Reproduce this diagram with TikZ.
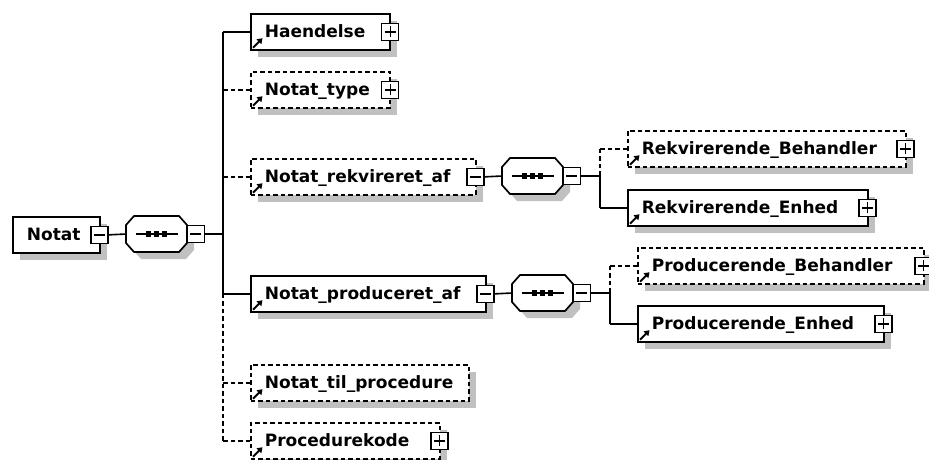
\documentclass[tikz,border=0pt]{standalone}
\usepackage{fontspec}
\setmainfont{DejaVu Sans}
\usetikzlibrary{shadows,arrows.meta,calc}
\definecolor{shadowgray}{RGB}{192,192,192}
\tikzset{
  elembox/.style={draw, line width=1.7pt, fill=white, anchor=north west,
    minimum height=36pt, inner xsep=14pt, inner ysep=0pt, text width=#1,
    align=left, text height=14pt, text depth=2pt,
    font=\bfseries\fontsize{17}{20}\selectfont,
    general shadow={fill=shadowgray, shadow xshift=7pt, shadow yshift=-7pt}},
  optbox/.style={elembox=#1, dash pattern=on 4.5pt off 3pt},
  pmbox/.style={draw=black, fill=white, line width=1.5pt, minimum size=17pt, inner sep=0pt},
  minusbox/.style={pmbox, path picture={
      \draw[line width=1.4pt] ([xshift=-5.5pt]path picture bounding box.center) -- ([xshift=5.5pt]path picture bounding box.center);}},
  plusbox/.style={pmbox, path picture={
      \draw[line width=1.4pt] ([xshift=-5.5pt]path picture bounding box.center) -- ([xshift=5.5pt]path picture bounding box.center);
      \draw[line width=1.4pt] ([yshift=-5.5pt]path picture bounding box.center) -- ([yshift=5.5pt]path picture bounding box.center);}},
  seqbox/.style={minimum width=61pt, minimum height=36pt, inner sep=0pt, outer sep=0pt, anchor=north west},
  conn/.style={line width=1.6pt},
  optconn/.style={conn, dash pattern=on 4.5pt off 3pt},
}
\newcommand\seqshape[1]{%
  \fill[shadowgray]
    ([shift={(15pt,-7pt)}]#1.north west) -- ([shift={(-1pt,-7pt)}]#1.north east) -- ([shift={(7pt,-16pt)}]#1.north east)
    -- ([shift={(7pt,2pt)}]#1.south east) -- ([shift={(-1pt,-7pt)}]#1.south east) -- ([shift={(15pt,-7pt)}]#1.south west)
    -- ([shift={(7pt,2pt)}]#1.south west) -- ([shift={(7pt,-16pt)}]#1.north west) -- cycle;
  \draw[line width=1.7pt, fill=white]
    ([xshift=8pt]#1.north west) -- ([xshift=-8pt]#1.north east) -- ([yshift=-9pt]#1.north east)
    -- ([yshift=9pt]#1.south east) -- ([xshift=-8pt]#1.south east) -- ([xshift=8pt]#1.south west)
    -- ([yshift=9pt]#1.south west) -- ([yshift=-9pt]#1.north west) -- cycle;
  \draw[line width=1.6pt] ([xshift=-21pt]#1.center) -- ([xshift=21pt]#1.center);
  \fill ([xshift=-8pt]#1.center) +(-2.8pt,-2.8pt) rectangle +(2.8pt,2.8pt);
  \fill (#1.center) +(-2.8pt,-2.8pt) rectangle +(2.8pt,2.8pt);
  \fill ([xshift=8pt]#1.center) +(-2.8pt,-2.8pt) rectangle +(2.8pt,2.8pt);
}
\newcommand\refarrow[1]{%
  \draw[line width=2pt, -{Triangle[length=5pt,width=6.5pt]}]
    ([shift={(3pt,3pt)}]#1.south west) -- ([shift={(12.5pt,12.5pt)}]#1.south west);
}
\begin{document}
\begin{tikzpicture}[x=1pt,y=-1pt]
\useasboundingbox (0,0) rectangle (929,460);

% root
\node[elembox=59pt] (notat) at (12,216) {Notat};
\node[minusbox] (notat-pm) at ([xshift=-1pt]notat.east) {};

% sequence 1
\node[seqbox] (s1) at (126,216) {};
\seqshape{s1}
\node[minusbox] (s1-pm) at ([xshift=8.8pt]s1.east) {};
\coordinate (t1) at (223,234);

% children of Notat
\node[elembox=111pt] (hae) at (250,13) {Haendelse};
\node[plusbox] (hae-pm) at ([xshift=-0.5pt]hae.east) {};
\refarrow{hae}

\node[optbox=111pt] (typ) at (250,71) {Notat\_type};
\node[plusbox] (typ-pm) at ([xshift=-0.5pt]typ.east) {};
\refarrow{typ}

\node[optbox=197pt] (rek) at (250,158) {Notat\_rekvireret\_af};
\node[minusbox] (rek-pm) at ([xshift=-1pt]rek.east) {};
\refarrow{rek}

\node[elembox=207pt] (pro) at (250,275) {Notat\_produceret\_af};
\node[minusbox] (pro-pm) at ([xshift=-1pt]pro.east) {};
\refarrow{pro}

\node[optbox=190pt] (til) at (250,364) {Notat\_til\_procedure};
\refarrow{til}

\node[optbox=161pt] (kod) at (250,422) {Procedurekode};
\node[plusbox] (kod-pm) at ([xshift=-1pt]kod.east) {};
\refarrow{kod}

% sequence 2
\node[seqbox] (s2) at (502,158) {};
\seqshape{s2}
\node[minusbox] (s2-pm) at ([xshift=8.8pt]s2.east) {};
\coordinate (t2) at (600,176);

\node[optbox=250pt] (rb) at (627,130) {Rekvirerende\_Behandler};
\node[plusbox] (rb-pm) at ([xshift=-1pt]rb.east) {};
\refarrow{rb}

\node[elembox=212pt] (re) at (627,189) {Rekvirerende\_Enhed};
\node[plusbox] (re-pm) at ([xshift=-1pt]re.east) {};
\refarrow{re}

% sequence 3
\node[seqbox] (s3) at (512,275) {};
\seqshape{s3}
\node[minusbox] (s3-pm) at ([xshift=8.8pt]s3.east) {};
\coordinate (t3) at (610,293);

\node[optbox=258pt] (pb) at (637,247) {Producerende\_Behandler};
\node[plusbox] (pb-pm) at ([xshift=-1pt]pb.east) {};
\refarrow{pb}

\node[elembox=218pt] (pe) at (637,305) {Producerende\_Enhed};
\node[plusbox] (pe-pm) at ([xshift=-1pt]pe.east) {};
\refarrow{pe}

% connectors
\draw[conn] (notat-pm.east) -- (s1.west);
\draw[conn] (s1-pm.east) -- (t1);
\draw[conn] (t1 |- hae.west) -- (t1 |- pro.west);
\draw[optconn] (t1 |- pro.west) -- (t1 |- kod.west);
\draw[conn] (t1 |- hae.west) -- (hae.west);
\draw[optconn] (t1 |- typ.west) -- (typ.west);
\draw[optconn] (t1 |- rek.west) -- (rek.west);
\draw[conn] (t1 |- pro.west) -- (pro.west);
\draw[optconn] (t1 |- til.west) -- (til.west);
\draw[optconn] (t1 |- kod.west) -- (kod.west);

\draw[conn] (rek-pm.east) -- (s2.west);
\draw[conn] (s2-pm.east) -- (t2);
\draw[optconn] (t2 |- rb.west) -- (t2);
\draw[conn] (t2) -- (t2 |- re.west);
\draw[optconn] (t2 |- rb.west) -- (rb.west);
\draw[conn] (t2 |- re.west) -- (re.west);

\draw[conn] (pro-pm.east) -- (s3.west);
\draw[conn] (s3-pm.east) -- (t3);
\draw[optconn] (t3 |- pb.west) -- (t3);
\draw[conn] (t3) -- (t3 |- pe.west);
\draw[optconn] (t3 |- pb.west) -- (pb.west);
\draw[conn] (t3 |- pe.west) -- (pe.west);
\end{tikzpicture}
\end{document}
